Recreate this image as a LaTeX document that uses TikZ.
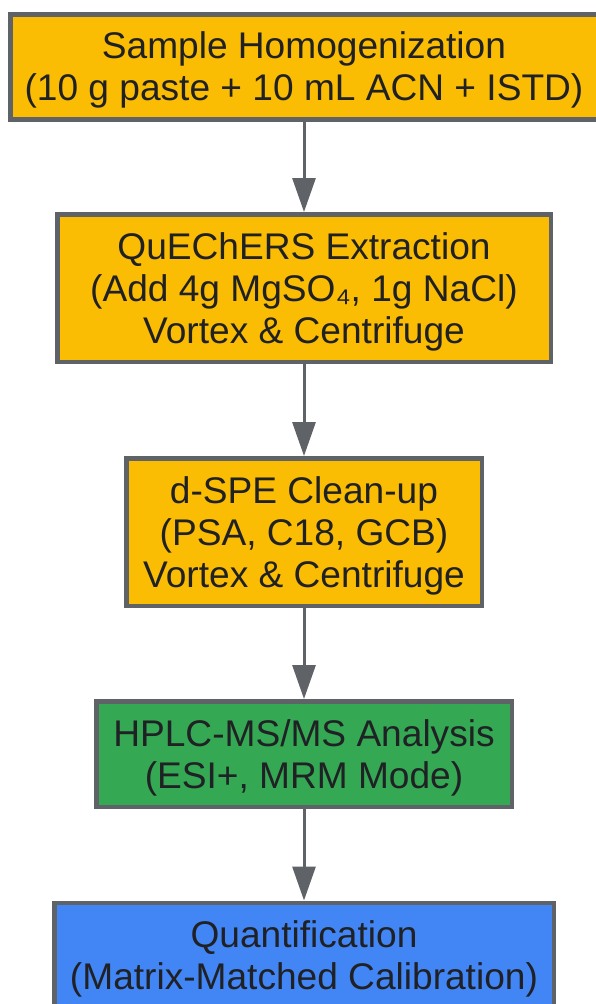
\documentclass[tikz,border=0pt]{standalone}
\usepackage{fontspec}
\setmainfont{Liberation Sans}
\usetikzlibrary{arrows.meta}
\definecolor{bordergray}{HTML}{5F6368}
\definecolor{gyellow}{HTML}{FBBC04}
\definecolor{ggreen}{HTML}{34A853}
\definecolor{gblue}{HTML}{4285F4}
\definecolor{txt}{HTML}{202124}
\newcommand\lstr{\vrule height 34pt depth 8pt width 0pt\relax}
\newcommand\boxfont{\fontsize{37.1}{42}\selectfont\lineskiplimit=-60pt\relax}
\tikzset{
  stepbox/.style={draw=bordergray, line width=4.5pt, rectangle, inner sep=0pt,
    align=center, text=txt, font=\boxfont},
  flowarrow/.style={draw=bordergray, line width=3pt,
    -{Triangle[width=23pt,length=34pt]}}
}
\begin{document}
\begin{tikzpicture}[x=1pt,y=-1pt]
\clip (0,0) rectangle (596,1004);
\fill[white] (0,0) rectangle (596,1004);
\node[stepbox, fill=gyellow, minimum width=587.5pt, minimum height=105pt] (b1) at (304,66.75)
  {\lstr Sample Homogenization\\\lstr (10 g paste + 10 mL ACN + ISTD)};
\node[stepbox, fill=gyellow, minimum width=493.5pt, minimum height=147.5pt] (b2) at (304,288)
  {\lstr QuEChERS Extraction\\\lstr (Add 4g MgSO₄, 1g NaCl)\\\lstr Vortex \& Centrifuge};
\node[stepbox, fill=gyellow, minimum width=355.5pt, minimum height=147.5pt] (b3) at (304,532)
  {\lstr d-SPE Clean-up\\\lstr (PSA, C18, GCB)\\\lstr Vortex \& Centrifuge};
\node[stepbox, fill=ggreen, minimum width=415.5pt, minimum height=105.5pt] (b4) at (304,754)
  {\lstr HPLC-MS/MS Analysis\\\lstr (ESI+, MRM Mode)};
\node[stepbox, fill=gblue, minimum width=499.5pt, minimum height=105pt] (b5) at (304,955.25)
  {\lstr Quantification\\\lstr (Matrix-Matched Calibration)};
\draw[flowarrow] (b1) -- (b2);
\draw[flowarrow] (b2) -- (b3);
\draw[flowarrow] (b3) -- (b4);
\draw[flowarrow] (b4) -- (b5);
\end{tikzpicture}
\end{document}
